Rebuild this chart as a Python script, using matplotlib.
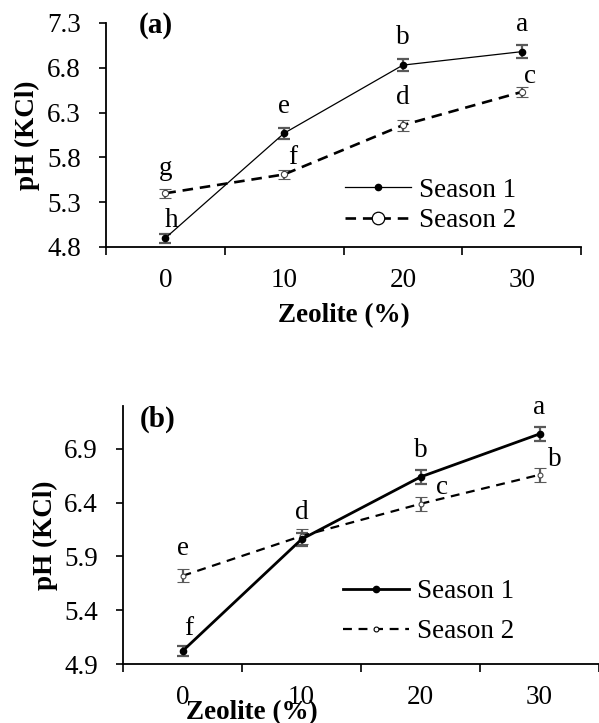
import numpy as np
import matplotlib
matplotlib.use("Agg")
import matplotlib.pyplot as plt
from matplotlib.lines import Line2D
from matplotlib.ticker import FixedLocator, NullFormatter, FixedFormatter

plt.rcParams['font.family'] = ['Liberation Serif', 'DejaVu Serif']
plt.rcParams['font.size'] = 19.5

# data
zeolite = ['0', '10', '20', '30']

a_s1 = [4.90, 6.07, 6.83, 6.98]
a_s2 = [5.40, 5.61, 6.16, 6.53]
a_s1_err = [0.05, 0.06, 0.07, 0.07]
a_s2_err = [0.05, 0.05, 0.06, 0.06]
a_s1_letters = ['h', 'e', 'b', 'a']
a_s2_letters = ['g', 'f', 'd', 'c']

b_s1 = [5.02, 6.06, 6.64, 7.04]
b_s2 = [5.72, 6.09, 6.39, 6.66]
b_s1_err = [0.05, 0.06, 0.065, 0.065]
b_s2_err = [0.06, 0.07, 0.065, 0.065]
b_s1_letters = ['f', 'd', 'b', 'a']
b_s2_letters = ['e', '', 'c', 'b']

# letter placement offsets (dx in categories, dy in pH units)
a_s1_off = [(0.05, 0.20), (0.0, 0.30), (0.0, 0.31), (0.0, 0.30)]
a_s2_off = [(0.0, 0.28), (0.07, 0.19), (0.0, 0.31), (0.07, 0.17)]
b_s1_off = [(0.05, 0.21), (0.0, 0.25), (0.0, 0.25), (0.0, 0.25)]
b_s2_off = [(0.0, 0.25), (0.0, 0.0), (0.18, 0.15), (0.13, 0.14)]

x = np.arange(len(zeolite))
err_col = '#595959'

fig = plt.figure(figsize=(5.99, 7.23), dpi=100)
W, H = 599, 723


def add_axes_px(left, right, top, bottom):
    return fig.add_axes([left / W, 1 - bottom / H, (right - left) / W, (bottom - top) / H])


def style_axes(ax, yticks, ylim):
    ax.set_xlim(-0.5, 3.5)
    ax.set_ylim(*ylim)
    ax.set_yticks(yticks)
    ax.set_yticklabels([f'{t:.1f}' for t in yticks])
    ax.xaxis.set_major_locator(FixedLocator(np.arange(-0.5, 4.0, 1.0)))
    ax.xaxis.set_major_formatter(NullFormatter())
    ax.xaxis.set_minor_locator(FixedLocator(x))
    ax.xaxis.set_minor_formatter(FixedFormatter(zeolite))
    ax.tick_params(axis='x', which='major', direction='out', length=6, width=1.2)
    ax.tick_params(axis='x', which='minor', length=0, pad=15)
    ax.tick_params(axis='y', direction='out', length=5, width=1.2, pad=13)
    for s in ['top', 'right']:
        ax.spines[s].set_visible(False)
    for s in ['left', 'bottom']:
        ax.spines[s].set_linewidth(1.3)


def draw_letters(ax, vals, letters, offs):
    for xi, v, l, (dx, dy) in zip(x, vals, letters, offs):
        if l:
            ax.text(xi + dx, v + dy, l, ha='center', va='center', fontsize=19.5)


# ---- panel (a)
ax1 = add_axes_px(106, 581, 23, 247)
style_axes(ax1, [4.8, 5.3, 5.8, 6.3, 6.8, 7.3], (4.8, 7.3))
ax1.errorbar(x, a_s2, yerr=a_s2_err, color='black', ls=(0, (4, 2.6)), lw=1.9,
             marker='o', ms=4.5, mfc='white', mec='#444444', mew=0.8,
             ecolor=err_col, elinewidth=1.6, capsize=4, capthick=1.6)
ax1.errorbar(x, a_s1, yerr=a_s1_err, color='black', ls='-', lw=0.9,
             marker='o', ms=4.5, ecolor=err_col, elinewidth=1.6, capsize=4,
             capthick=1.6)
draw_letters(ax1, a_s1, a_s1_letters, a_s1_off)
draw_letters(ax1, a_s2, a_s2_letters, a_s2_off)
ha1 = Line2D([], [], color='black', ls='-', lw=0.9, marker='o', ms=4.5)
hb1 = Line2D([], [], color='black', ls=(0, (4, 2.6)), lw=1.9, marker='o', ms=9,
             mfc='white', mec='black', mew=0.9)
ax1.legend([ha1, hb1], ['Season 1', 'Season 2'], loc='center left',
           bbox_to_anchor=(0.503, 0.185), frameon=False, borderpad=0,
           borderaxespad=0, handlelength=2.45, handletextpad=0.3,
           labelspacing=0.2, fontsize=19.5)
ax1.text(0.07, 0.987, '(a)', transform=ax1.transAxes, ha='left', va='center',
         fontsize=21, fontweight='bold')
ax1.text(-0.165, 0.5, 'pH (KCl)', transform=ax1.transAxes, rotation=90,
         ha='center', va='center', fontsize=19.5, fontweight='bold')
ax1.text(0.5, -0.308, 'Zeolite (%)', transform=ax1.transAxes, ha='center',
         va='center', fontsize=19.5, fontweight='bold')

# ---- panel (b)
ax2 = add_axes_px(123, 599, 406, 664)
style_axes(ax2, [4.9, 5.4, 5.9, 6.4, 6.9], (4.9, 7.3))
ax2.errorbar(x, b_s2, yerr=b_s2_err, color='black', ls=(0, (4, 3)), lw=1.6,
             marker='o', ms=3.5, mfc='white', mec='#444444', mew=0.8,
             ecolor=err_col, elinewidth=1.6, capsize=4, capthick=1.6)
ax2.errorbar(x, b_s1, yerr=b_s1_err, color='black', ls='-', lw=2.0,
             marker='o', ms=4.5, ecolor=err_col, elinewidth=1.6, capsize=4,
             capthick=1.6)
draw_letters(ax2, b_s1, b_s1_letters, b_s1_off)
draw_letters(ax2, b_s2, b_s2_letters, b_s2_off)
ha2 = Line2D([], [], color='black', ls='-', lw=2.0, marker='o', ms=4.5)
hb2 = Line2D([], [], color='black', ls=(0, (4, 3)), lw=1.6, marker='o', ms=3.5,
             mfc='white', mec='black', mew=0.8)
ax2.legend([ha2, hb2], ['Season 1', 'Season 2'], loc='center left',
           bbox_to_anchor=(0.462, 0.203), frameon=False, borderpad=0,
           borderaxespad=0, handlelength=2.45, handletextpad=0.3,
           labelspacing=0.55, fontsize=19.5)
ax2.text(0.035, 0.95, '(b)', transform=ax2.transAxes, ha='left', va='center',
         fontsize=21, fontweight='bold')
ax2.text(-0.163, 0.5, 'pH (KCl)', transform=ax2.transAxes, rotation=90,
         ha='center', va='center', fontsize=19.5, fontweight='bold')
ax2.text(0.271, -0.19, 'Zeolite (%)', transform=ax2.transAxes, ha='center',
         va='center', fontsize=19.5, fontweight='bold')

fig.savefig('out.png', dpi=100)
